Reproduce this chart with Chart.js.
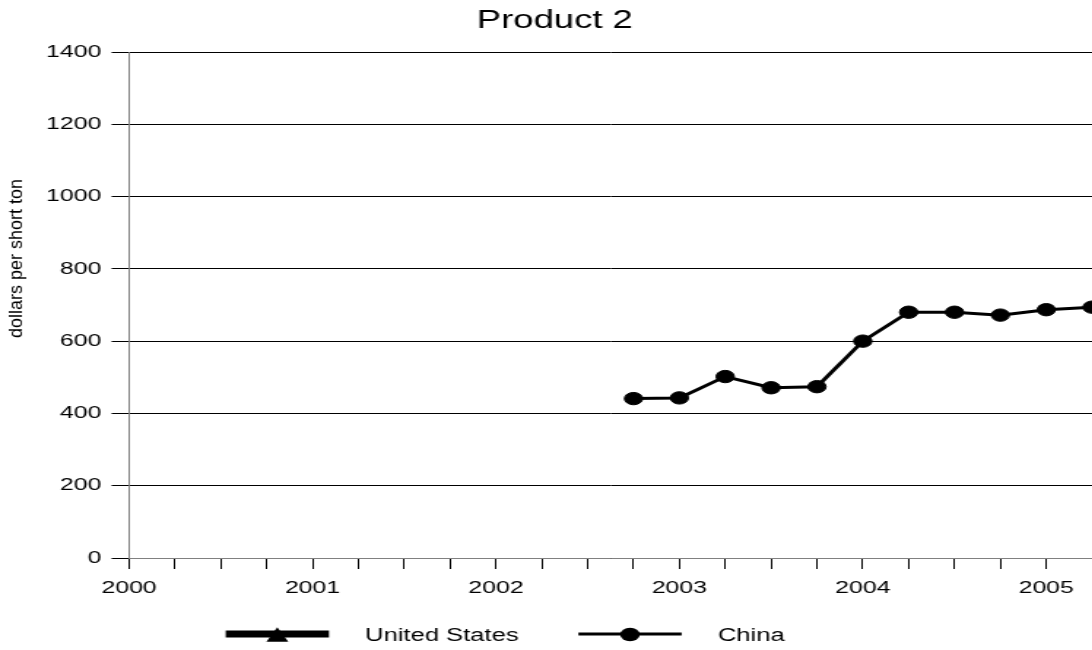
<!DOCTYPE html>
<html>
<head>
<meta charset="utf-8">
<title>Product 2</title>
<script src="https://cdn.jsdelivr.net/npm/chart.js@4.4.1/dist/chart.umd.min.js"></script>
<style>
  html, body { margin: 0; padding: 0; background: #fff; overflow: hidden; }
  /* the source picture is stretched sideways, so the canvas is too */
  #chart { transform: scaleX(1.46); transform-origin: 0 0; }
</style>
</head>
<body>
<canvas id="chart" width="748" height="650" style="width:748px;height:650px"></canvas>
<script>
const STRETCH = 1.46;

const quarters = ['2002 Q4', '2003 Q1', '2003 Q2', '2003 Q3', '2003 Q4', '2004 Q1',
                  '2004 Q2', '2004 Q3', '2004 Q4', '2005 Q1', '2005 Q2'];
const chinaPrices = [441, 443, 502, 471, 474, 600, 680, 680, 672, 687, 694];
const usPrices = [null, null, null, null, null, null, null, null, null, null, null];
const yearTicks = [2000, 2001, 2002, 2003, 2004, 2005];
const yTicks = [0, 200, 400, 600, 800, 1000, 1200, 1400];

function quarterToX(q) {
  const parts = q.split(' Q');
  return Number(parts[0]) + (Number(parts[1]) - 1) / 4;
}

function toPoints(values) {
  return quarters.map((q, i) => ({ x: quarterToX(q), y: values[i] }));
}

Chart.defaults.font.family = "'Liberation Sans', Arial, sans-serif";
Chart.defaults.color = '#000';

// rotated axis title, drawn unstretched
const axisTitlePlugin = {
  id: 'axisTitle',
  afterDraw(chart) {
    const ctx = chart.ctx;
    ctx.save();
    ctx.translate(11.6, 258.5);
    ctx.scale(1 / STRETCH, 1);
    ctx.rotate(-Math.PI / 2);
    ctx.font = "18px 'Liberation Sans', Arial, sans-serif";
    ctx.fillStyle = '#000';
    ctx.textAlign = 'center';
    ctx.textBaseline = 'middle';
    ctx.fillText('dollars per short ton', 0, 0);
    ctx.restore();
  }
};

// legend with long line samples like the original
const legendPlugin = {
  id: 'lineLegend',
  afterDraw(chart) {
    const ctx = chart.ctx;
    const y = 634;
    let x = 154.6;
    ctx.save();
    ctx.font = "17.5px 'Liberation Sans', Arial, sans-serif";
    ctx.textBaseline = 'alphabetic';
    chart.data.datasets.forEach(ds => {
      const x2 = x + 70.7;
      const cx = (x + x2) / 2;
      ctx.strokeStyle = ds.borderColor;
      ctx.lineWidth = ds.borderWidth;
      ctx.beginPath();
      ctx.moveTo(x, y);
      ctx.lineTo(x2, y);
      ctx.stroke();
      ctx.fillStyle = ds.pointBackgroundColor;
      ctx.beginPath();
      if (ds.pointStyle === 'triangle') {
        ctx.moveTo(cx, y - 6.7);
        ctx.lineTo(cx + 7.5, y + 7.7);
        ctx.lineTo(cx - 7.5, y + 7.7);
        ctx.closePath();
      } else {
        ctx.arc(cx, y + 0.5, 6.7, 0, Math.PI * 2);
      }
      ctx.fill();
      const tx = x2 + 24.8;
      ctx.fillStyle = '#000';
      ctx.fillText(ds.label, tx, 641);
      x = tx + ctx.measureText(ds.label).width + 41;
    });
    ctx.restore();
  }
};

new Chart(document.getElementById('chart'), {
  type: 'line',
  data: {
    datasets: [
      {
        label: 'United States',
        data: toPoints(usPrices),
        borderColor: '#000',
        backgroundColor: '#000',
        borderWidth: 7,
        pointStyle: 'triangle',
        pointBackgroundColor: '#000',
        pointBorderColor: '#000',
        pointRadius: 7,
        tension: 0
      },
      {
        label: 'China',
        data: toPoints(chinaPrices),
        borderColor: '#000',
        backgroundColor: '#000',
        borderWidth: 3,
        pointStyle: 'circle',
        pointBackgroundColor: '#000',
        pointBorderColor: '#000',
        pointBorderWidth: 1,
        pointRadius: 6.2,
        tension: 0,
        clip: false
      }
    ]
  },
  options: {
    responsive: false,
    animation: false,
    devicePixelRatio: 1,
    layout: {
      autoPadding: false, // plot runs into the right edge, like the cropped original
      padding: { left: 12, right: 0, top: 0, bottom: 32 }
    },
    plugins: {
      legend: { display: false },
      tooltip: { enabled: false },
      title: {
        display: true,
        text: 'Product 2',
        color: '#000',
        font: { size: 25, weight: 'normal' },
        padding: { top: 6, bottom: 16 }
      }
    },
    scales: {
      x: {
        type: 'linear',
        min: 2000,
        max: 2005.25,
        afterFit: scale => {
          scale.height = 60;
          scale.paddingLeft = 0;
          scale.paddingRight = 0;
        },
        border: { color: '#808080', width: 1 },
        grid: { drawOnChartArea: false, drawTicks: true, tickLength: 11, tickColor: '#000' },
        ticks: {
          stepSize: 0.25,
          autoSkip: false,
          maxRotation: 0,
          minRotation: 0,
          padding: 0,
          color: '#000',
          // tall line box pushes the year labels down instead of tick padding
          font: { size: 17, lineHeight: 2.26 },
          callback: v => yearTicks.includes(v) ? String(v) : ''
        }
      },
      y: {
        min: yTicks[0],
        max: yTicks[yTicks.length - 1],
        afterFit: scale => { scale.width = 76.4; },
        border: { color: '#808080', width: 1 },
        grid: { color: '#000', lineWidth: 1, tickLength: 12, tickColor: '#000' },
        ticks: {
          stepSize: 200,
          padding: 7,
          color: '#000',
          font: { size: 17 },
          callback: v => String(v)
        }
      }
    }
  },
  plugins: [axisTitlePlugin, legendPlugin]
});
</script>
</body>
</html>
